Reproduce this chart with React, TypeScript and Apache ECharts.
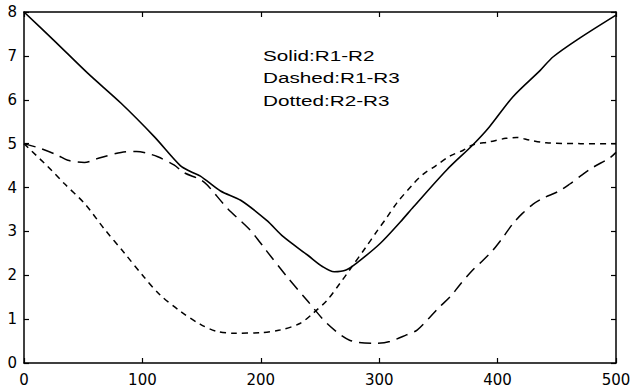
import React, { useEffect, useRef } from "react";
import * as echarts from "echarts";

// Solid: R1-R2
const solidX = [0, 25, 54, 82, 110, 132, 141, 149, 166, 183, 205, 219, 240, 252, 262, 272, 282, 301, 318, 329, 357, 379, 393, 413, 436, 447, 469, 500];
const solidY = [8.0, 7.36, 6.6, 5.92, 5.16, 4.5, 4.36, 4.26, 3.92, 3.71, 3.25, 2.88, 2.45, 2.2, 2.08, 2.12, 2.3, 2.73, 3.22, 3.56, 4.4, 4.97, 5.38, 6.07, 6.67, 6.98, 7.4, 7.93];

// Dashed: R1-R3
const dashX = [0, 14, 28, 37, 51, 62, 82, 95, 104, 113, 127, 135, 149, 155, 172, 191, 205, 222, 239, 256, 275, 298, 309, 323, 332, 343, 351, 360, 368, 379, 385, 396, 405, 413, 421, 430, 438, 452, 461, 472, 480, 495, 500];
const dashY = [5.0, 4.89, 4.74, 4.62, 4.57, 4.66, 4.8, 4.82, 4.78, 4.7, 4.51, 4.34, 4.18, 4.05, 3.52, 3.03, 2.55, 1.97, 1.43, 0.9, 0.52, 0.45, 0.49, 0.64, 0.75, 1.05, 1.28, 1.51, 1.78, 2.12, 2.27, 2.57, 2.88, 3.18, 3.41, 3.62, 3.75, 3.92, 4.08, 4.3, 4.45, 4.68, 4.8];

// Dotted: R2-R3
const dotX = [0, 23, 34, 51, 68, 85, 101, 115, 132, 149, 163, 177, 200, 216, 233, 244, 256, 267, 275, 289, 298, 306, 315, 329, 337, 348, 360, 371, 379, 393, 407, 416, 427, 441, 470, 500];
const dotY = [5.0, 4.4, 4.09, 3.64, 3.05, 2.5, 1.97, 1.55, 1.18, 0.88, 0.72, 0.68, 0.69, 0.75, 0.9, 1.13, 1.43, 1.82, 2.12, 2.65, 3.0, 3.3, 3.65, 4.09, 4.3, 4.5, 4.72, 4.85, 4.97, 5.04, 5.12, 5.14, 5.08, 5.02, 5.0, 5.0];

const legendLines = ["Solid:R1-R2", "Dashed:R1-R3", "Dotted:R2-R3"];

const pairs = (xs: number[], ys: number[]) => xs.map((x, i) => [x, ys[i]]);

export default function App() {
  const ref = useRef<HTMLDivElement>(null);
  useEffect(() => {
    const chart = echarts.init(ref.current!, null, { renderer: "svg" });
    const axisLine = { show: true, onZero: false, lineStyle: { color: "#000", width: 1.5 } };
    const axisTick = { show: true, inside: true, length: 5, lineStyle: { color: "#000", width: 1.2 } };
    const label = { color: "#000", fontFamily: "DejaVu Sans", fontSize: 15 };
    const lineBase = { type: "line", symbol: "none", showSymbol: false, smooth: 0.3, silent: true };
    chart.setOption({
      animation: false,
      backgroundColor: "#fff",
      grid: { left: 24, top: 12, right: 18, bottom: 26, containLabel: false },
      xAxis: [
        { type: "value", min: 0, max: 500, interval: 100, position: "bottom", axisLine, axisTick, axisLabel: { ...label, margin: 9 }, splitLine: { show: false } },
        { type: "value", min: 0, max: 500, interval: 100, position: "top", axisLine, axisTick, axisLabel: { show: false }, splitLine: { show: false } },
      ],
      yAxis: [
        { type: "value", min: 0, max: 8, interval: 1, position: "left", axisLine, axisTick, axisLabel: { ...label, margin: 7 }, splitLine: { show: false } },
        { type: "value", min: 0, max: 8, interval: 1, position: "right", axisLine, axisTick, axisLabel: { show: false }, splitLine: { show: false } },
      ],
      series: [
        { ...lineBase, name: "R1-R2", data: pairs(solidX, solidY), lineStyle: { color: "#000", width: 1.6, type: "solid" } },
        { ...lineBase, name: "R1-R3", data: pairs(dashX, dashY), lineStyle: { color: "#000", width: 1.5, type: [12, 7] } },
        { ...lineBase, name: "R2-R3", data: pairs(dotX, dotY), lineStyle: { color: "#000", width: 1.5, type: [6, 5] } },
      ],
      graphic: legendLines.map((t, i) => ({
        type: "text",
        x: 263,
        y: 56 + i * 22.5,
        scaleX: 1.38,
        style: { text: t, fill: "#000", fontFamily: "Liberation Sans", fontSize: 15, verticalAlign: "middle", align: "left" },
      })),
    });
    return () => chart.dispose();
  }, []);
  return <div ref={ref} style={{ position: "absolute", left: 0, top: 0, width: 634, height: 389 }} />;
}
